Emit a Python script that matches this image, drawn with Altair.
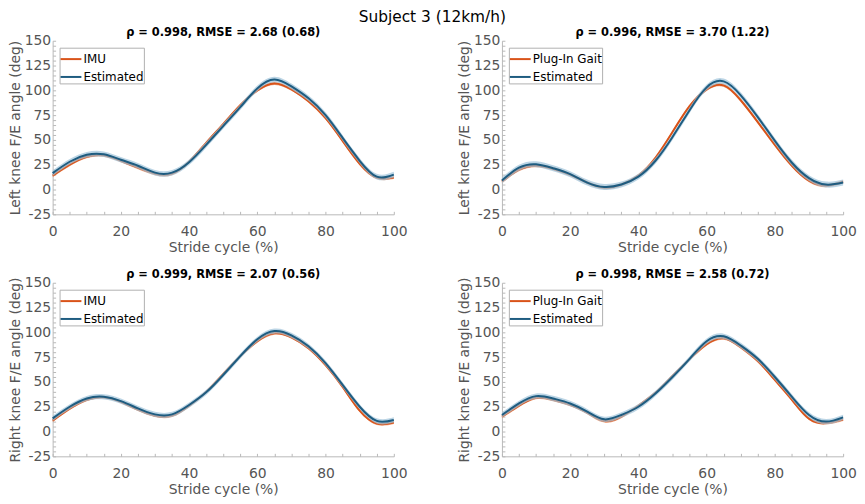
import altair as alt
import pandas as pd

# ---------------- data ----------------
X = list(range(0, 101, 5))

# Left knee, IMU vs Estimated
LK_IMU = [14, 25, 33, 34.5, 29, 22, 16, 16, 28, 47, 66, 85, 100, 107, 101, 89, 72, 49, 26, 12, 12]
LK_EST1 = [16.5, 28, 35, 35.5, 30, 24, 17, 17, 27.5, 45, 64, 83, 102, 111, 104, 92, 75, 52, 29, 13, 15]
# Left knee, Plug-In Gait vs Estimated
LK_PIG = [8, 20, 24, 21, 15, 7, 2, 5, 14, 32, 58, 84, 101, 105, 90, 68, 45, 24, 9, 4, 8]
LK_EST2 = [9, 22, 25.5, 21.5, 15.5, 7, 2.5, 5, 13, 29, 53, 80, 103, 109, 95, 73, 49, 27, 11.5, 5, 7]
# Right knee, IMU vs Estimated
RK_IMU = [11, 23, 32, 34.5, 30, 22, 16, 16, 26, 40, 58, 76, 91, 99, 95, 84, 67, 45, 21, 8, 9]
RK_EST1 = [13.3, 25, 33.3, 35, 30.7, 23.3, 17.3, 17.3, 26.7, 39.5, 57, 76, 93, 101.3, 97, 86, 69, 47, 25, 10.7, 11.7]
# Right knee, Plug-In Gait vs Estimated
RK_PIG = [15, 26, 34, 32, 27, 19, 10.5, 15, 26, 39, 56, 73, 88, 94, 85, 71, 52, 32, 13, 8.5, 12]
RK_EST2 = [16.7, 28.3, 35.7, 33.3, 28.3, 20, 12.3, 16.7, 25, 38.3, 55, 73.3, 91, 96, 86.7, 73.3, 55, 35, 16.7, 10, 14.3]

# band half-widths (SD) per panel: [reference, estimated]
SD = [[1.5, 2.8], [1.6, 3.0], [1.4, 2.6], [1.5, 2.7]]

TITLES = [
    "ρ = 0.998, RMSE = 2.68 (0.68)",
    "ρ = 0.996, RMSE = 3.70 (1.22)",
    "ρ = 0.999, RMSE = 2.07 (0.56)",
    "ρ = 0.998, RMSE = 2.58 (0.72)",
]
YTITLES = ["Left knee F/E angle (deg)", "Left knee F/E angle (deg)",
           "Right knee F/E angle (deg)", "Right knee F/E angle (deg)"]
REFNAMES = ["IMU", "Plug-In Gait", "IMU", "Plug-In Gait"]
SUPTITLE = "Subject 3 (12km/h)"
XTITLE = "Stride cycle (%)"
XTICKS = [0, 20, 40, 60, 80, 100]
YTICKS = [-25, 0, 25, 50, 75, 100, 125, 150]
XMINOR = list(range(0, 101, 5))
YMINOR = list(range(-25, 151, 5))

# ---------------- style ----------------
W, H = 344, 175
ORANGE = "#D95319"
ORANGE_BAND = "#F2A57F"
BLUE = "#1E5C80"
BLUE_BAND = "#9FC3DA"
FONT = "DejaVu Sans"
AXIS_GRAY = "#b8b8b8"
TEXT_GRAY = "#555555"


def panel(i, ref, est):
    ref_name = REFNAMES[i]
    rsd, esd = SD[i]
    rows = []
    for k, x in enumerate(X):
        rows.append(dict(x=x, series=ref_name, v=ref[k], lo=ref[k] - rsd, hi=ref[k] + rsd))
        rows.append(dict(x=x, series="Estimated", v=est[k], lo=est[k] - esd, hi=est[k] + esd))
    df = pd.DataFrame(rows)
    xs = alt.Scale(domain=[0, 100], nice=False, zero=False)
    ys = alt.Scale(domain=[-25, 150], nice=False, zero=False)

    main_x = alt.Axis(values=XTICKS, title=XTITLE, ticks=False, grid=False,
                      labelExpr="datum.value", labelFlush=False,
                      labelPadding=10, titlePadding=2)
    main_y = alt.Axis(values=YTICKS, title=YTITLES[i], ticks=False, grid=False,
                      labelExpr="datum.value")
    minor_x = alt.Axis(orient="top", offset=-H, values=XMINOR, labels=False,
                       domain=False, grid=False, tickSize=3, title=None,
                       minExtent=0, maxExtent=0)
    minor_y = alt.Axis(orient="right", offset=-W, values=YMINOR, labels=False,
                       domain=False, grid=False, tickSize=3, title=None,
                       minExtent=0, maxExtent=0)

    color = alt.Color(
        "series:N",
        scale=alt.Scale(domain=[ref_name, "Estimated"], range=[ORANGE, BLUE]),
        legend=alt.Legend(
            title=None, orient="top-left", offset=7, symbolType="stroke",
            symbolSize=441, symbolStrokeWidth=2, labelFontSize=12,
            labelFont=FONT, labelColor="black", strokeColor="#b0b0b0",
            fillColor="white", padding=0, labelOffset=1, rowPadding=-4,
            labelLimit=300,
        ),
    )
    base = alt.Chart(df)
    ref_band = base.transform_filter(alt.datum.series == ref_name).mark_area(
        color=ORANGE_BAND, interpolate="natural", opacity=0.9
    ).encode(x=alt.X("x:Q", scale=xs, axis=main_x),
             y=alt.Y("lo:Q", scale=ys, axis=main_y), y2="hi:Q")
    ref_line = base.transform_filter(alt.datum.series == ref_name).mark_line(
        strokeWidth=2, interpolate="natural"
    ).encode(x=alt.X("x:Q", scale=xs, axis=minor_x),
             y=alt.Y("v:Q", scale=ys, axis=minor_y), color=color)
    est_band = base.transform_filter(alt.datum.series == "Estimated").mark_area(
        color=BLUE_BAND, interpolate="natural", opacity=0.7
    ).encode(x=alt.X("x:Q", scale=xs, axis=None),
             y=alt.Y("lo:Q", scale=ys, axis=None), y2="hi:Q")
    est_line = base.transform_filter(alt.datum.series == "Estimated").mark_line(
        strokeWidth=2, interpolate="natural"
    ).encode(x=alt.X("x:Q", scale=xs, axis=None),
             y=alt.Y("v:Q", scale=ys, axis=None), color=color)
    return alt.layer(ref_band, ref_line, est_band, est_line).resolve_axis(
        x="independent", y="independent"
    ).properties(
        width=W, height=H,
        title=alt.TitleParams(TITLES[i], fontSize=11.5, fontWeight="bold",
                              font=FONT, color="black", offset=-5),
    )


p1 = panel(0, LK_IMU, LK_EST1)
p2 = panel(1, LK_PIG, LK_EST2)
p3 = panel(2, RK_IMU, RK_EST1)
p4 = panel(3, RK_PIG, RK_EST2)

row1 = alt.hconcat(p1, p2, spacing=50).resolve_scale(color="independent").resolve_legend(color="independent")
row2 = alt.hconcat(p3, p4, spacing=50).resolve_scale(color="independent").resolve_legend(color="independent")

chart = alt.vconcat(
    row1, row2, spacing=15,
    title=alt.TitleParams(SUPTITLE, fontSize=15.5, fontWeight="normal", font=FONT,
                          color="black", anchor="middle", offset=2),
).resolve_scale(color="independent").resolve_legend(color="independent").properties(
    padding={"left": 0, "top": 0, "right": 0, "bottom": 0}
).configure_view(stroke=None).configure_axis(
    domainColor=AXIS_GRAY, tickColor=AXIS_GRAY, labelColor=TEXT_GRAY,
    titleColor=TEXT_GRAY, labelFont=FONT, titleFont=FONT, labelFontSize=14,
    titleFontSize=14, titleFontWeight="normal", labelPadding=2, titlePadding=2,
)

chart.save("out.html", embed_options={"renderer": "svg", "actions": False})
